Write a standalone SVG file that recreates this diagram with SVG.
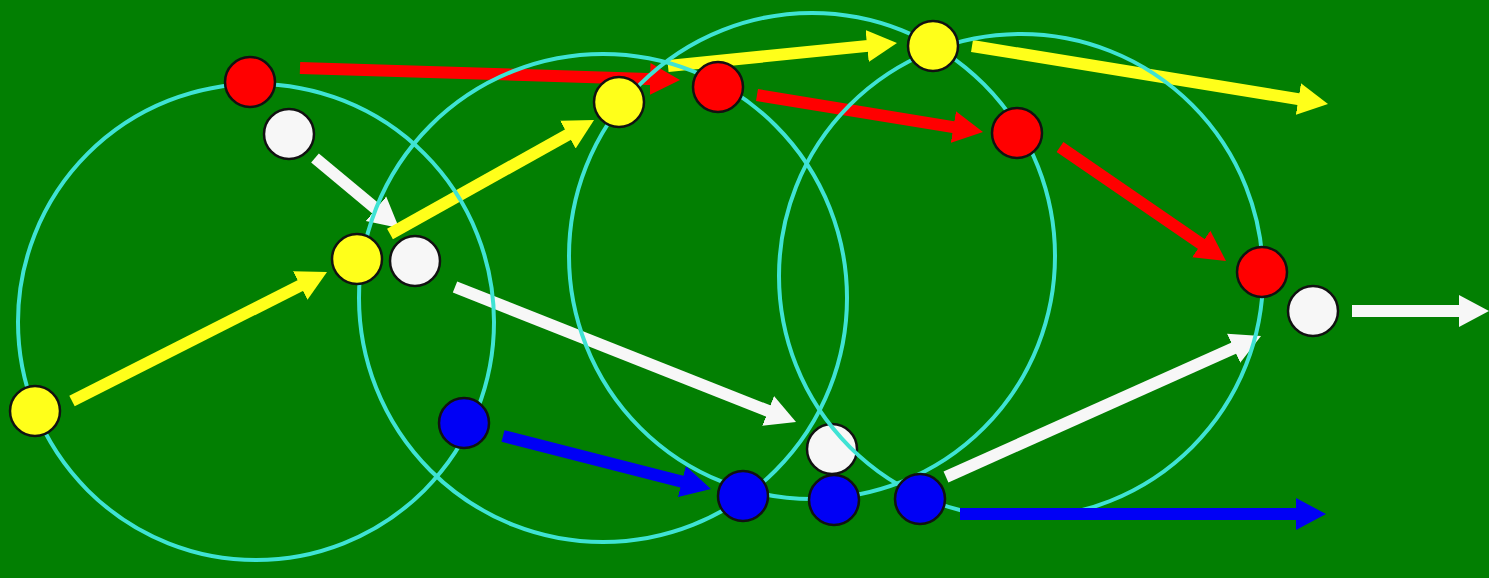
<svg xmlns="http://www.w3.org/2000/svg" width="1489" height="578" viewBox="0 0 1489 578">
<style>
.ring{fill:none;stroke:#3fe3d4;stroke-width:4}
.dot{stroke:#111;stroke-width:2.5}
.arr{fill:none;stroke-width:12;stroke-linecap:butt}
.y{fill:#ffff1a}.r{fill:#f00}.w{fill:#f7f7f7}.b{fill:#0000f5}
</style>
<defs>
<marker id="mY" markerUnits="userSpaceOnUse" markerWidth="32" markerHeight="34" refX="6" refY="16" orient="auto" viewBox="0 0 32 32"><path d="M0,0 L30,16 L0,32 z" fill="#ffff1a"/></marker>
<marker id="mR" markerUnits="userSpaceOnUse" markerWidth="32" markerHeight="34" refX="6" refY="16" orient="auto" viewBox="0 0 32 32"><path d="M0,0 L30,16 L0,32 z" fill="#f00"/></marker>
<marker id="mW" markerUnits="userSpaceOnUse" markerWidth="32" markerHeight="34" refX="6" refY="16" orient="auto" viewBox="0 0 32 32"><path d="M0,0 L30,16 L0,32 z" fill="#f7f7f7"/></marker>
<marker id="mB" markerUnits="userSpaceOnUse" markerWidth="32" markerHeight="34" refX="6" refY="16" orient="auto" viewBox="0 0 32 32"><path d="M0,0 L30,16 L0,32 z" fill="#0000f5"/></marker>
</defs>
<rect width="1489" height="578" fill="#027f02"/>
<g id="connectors">
<line class="arr" stroke="#ffff1a" marker-end="url(#mY)" x1="72" y1="401" x2="305.6" y2="282.8"/>
<line class="arr" stroke="#f7f7f7" marker-end="url(#mW)" x1="315" y1="158" x2="380.6" y2="212.6"/>
<line class="arr" stroke="#ffff1a" marker-end="url(#mY)" x1="390" y1="234" x2="573.1" y2="131.7"/>
<line class="arr" stroke="#f00" marker-end="url(#mR)" x1="300" y1="68" x2="656" y2="79.2"/>
<line class="arr" stroke="#ffff1a" marker-end="url(#mY)" x1="668" y1="66" x2="873.1" y2="45.4"/>
<line class="arr" stroke="#ffff1a" marker-end="url(#mY)" x1="972" y1="46" x2="1304.3" y2="100.1"/>
<line class="arr" stroke="#f00" marker-end="url(#mR)" x1="757" y1="95" x2="959.3" y2="128.1"/>
<line class="arr" stroke="#f00" marker-end="url(#mR)" x1="1060" y1="147" x2="1206.2" y2="247.4"/>
<line class="arr" stroke="#f7f7f7" marker-end="url(#mW)" x1="455" y1="287" x2="773.7" y2="413.2"/>
<line class="arr" stroke="#0000f5" marker-end="url(#mB)" x1="503" y1="436" x2="687.7" y2="483.1"/>
<line class="arr" stroke="#f7f7f7" marker-end="url(#mW)" x1="946" y1="477" x2="1239.1" y2="345.8"/>
<line class="arr" stroke="#f7f7f7" marker-end="url(#mW)" x1="1352" y1="311" x2="1465" y2="311"/>
</g>
<g id="white4"><circle class="dot w" cx="832" cy="449" r="25"/></g>
<g id="rings">
<circle class="ring" cx="256" cy="322" r="238"/>
<circle class="ring" cx="603" cy="298" r="244"/>
<circle class="ring" cx="812" cy="256" r="243"/>
<circle class="ring" cx="1021" cy="276" r="242"/>
</g>
<g id="connector-blue2"><line class="arr" stroke="#0000f5" marker-end="url(#mB)" x1="960" y1="514" x2="1302" y2="514"/></g>
<g id="red1"><circle class="dot r" cx="250" cy="82" r="25"/></g>
<g id="white1"><circle class="dot w" cx="289" cy="134" r="25"/></g>
<g id="yellow1"><circle class="dot y" cx="357" cy="259" r="25"/></g>
<g id="white2"><circle class="dot w" cx="415" cy="261" r="25"/></g>
<g id="yellow0"><circle class="dot y" cx="35" cy="411" r="25"/></g>
<g id="blue1"><circle class="dot b" cx="464" cy="423" r="25"/></g>
<g id="yellow2"><circle class="dot y" cx="619" cy="102" r="25"/></g>
<g id="red2"><circle class="dot r" cx="718" cy="87" r="25"/></g>
<g id="yellow3"><circle class="dot y" cx="933" cy="46" r="25"/></g>
<g id="red3"><circle class="dot r" cx="1017" cy="133" r="25"/></g>
<g id="red4"><circle class="dot r" cx="1262" cy="272" r="25"/></g>
<g id="white3"><circle class="dot w" cx="1313" cy="311" r="25"/></g>
<g id="blue2"><circle class="dot b" cx="743" cy="496" r="25"/></g>
<g id="blue3"><circle class="dot b" cx="834" cy="500" r="25"/></g>
<g id="blue4"><circle class="dot b" cx="920" cy="499" r="25"/></g>
</svg>
